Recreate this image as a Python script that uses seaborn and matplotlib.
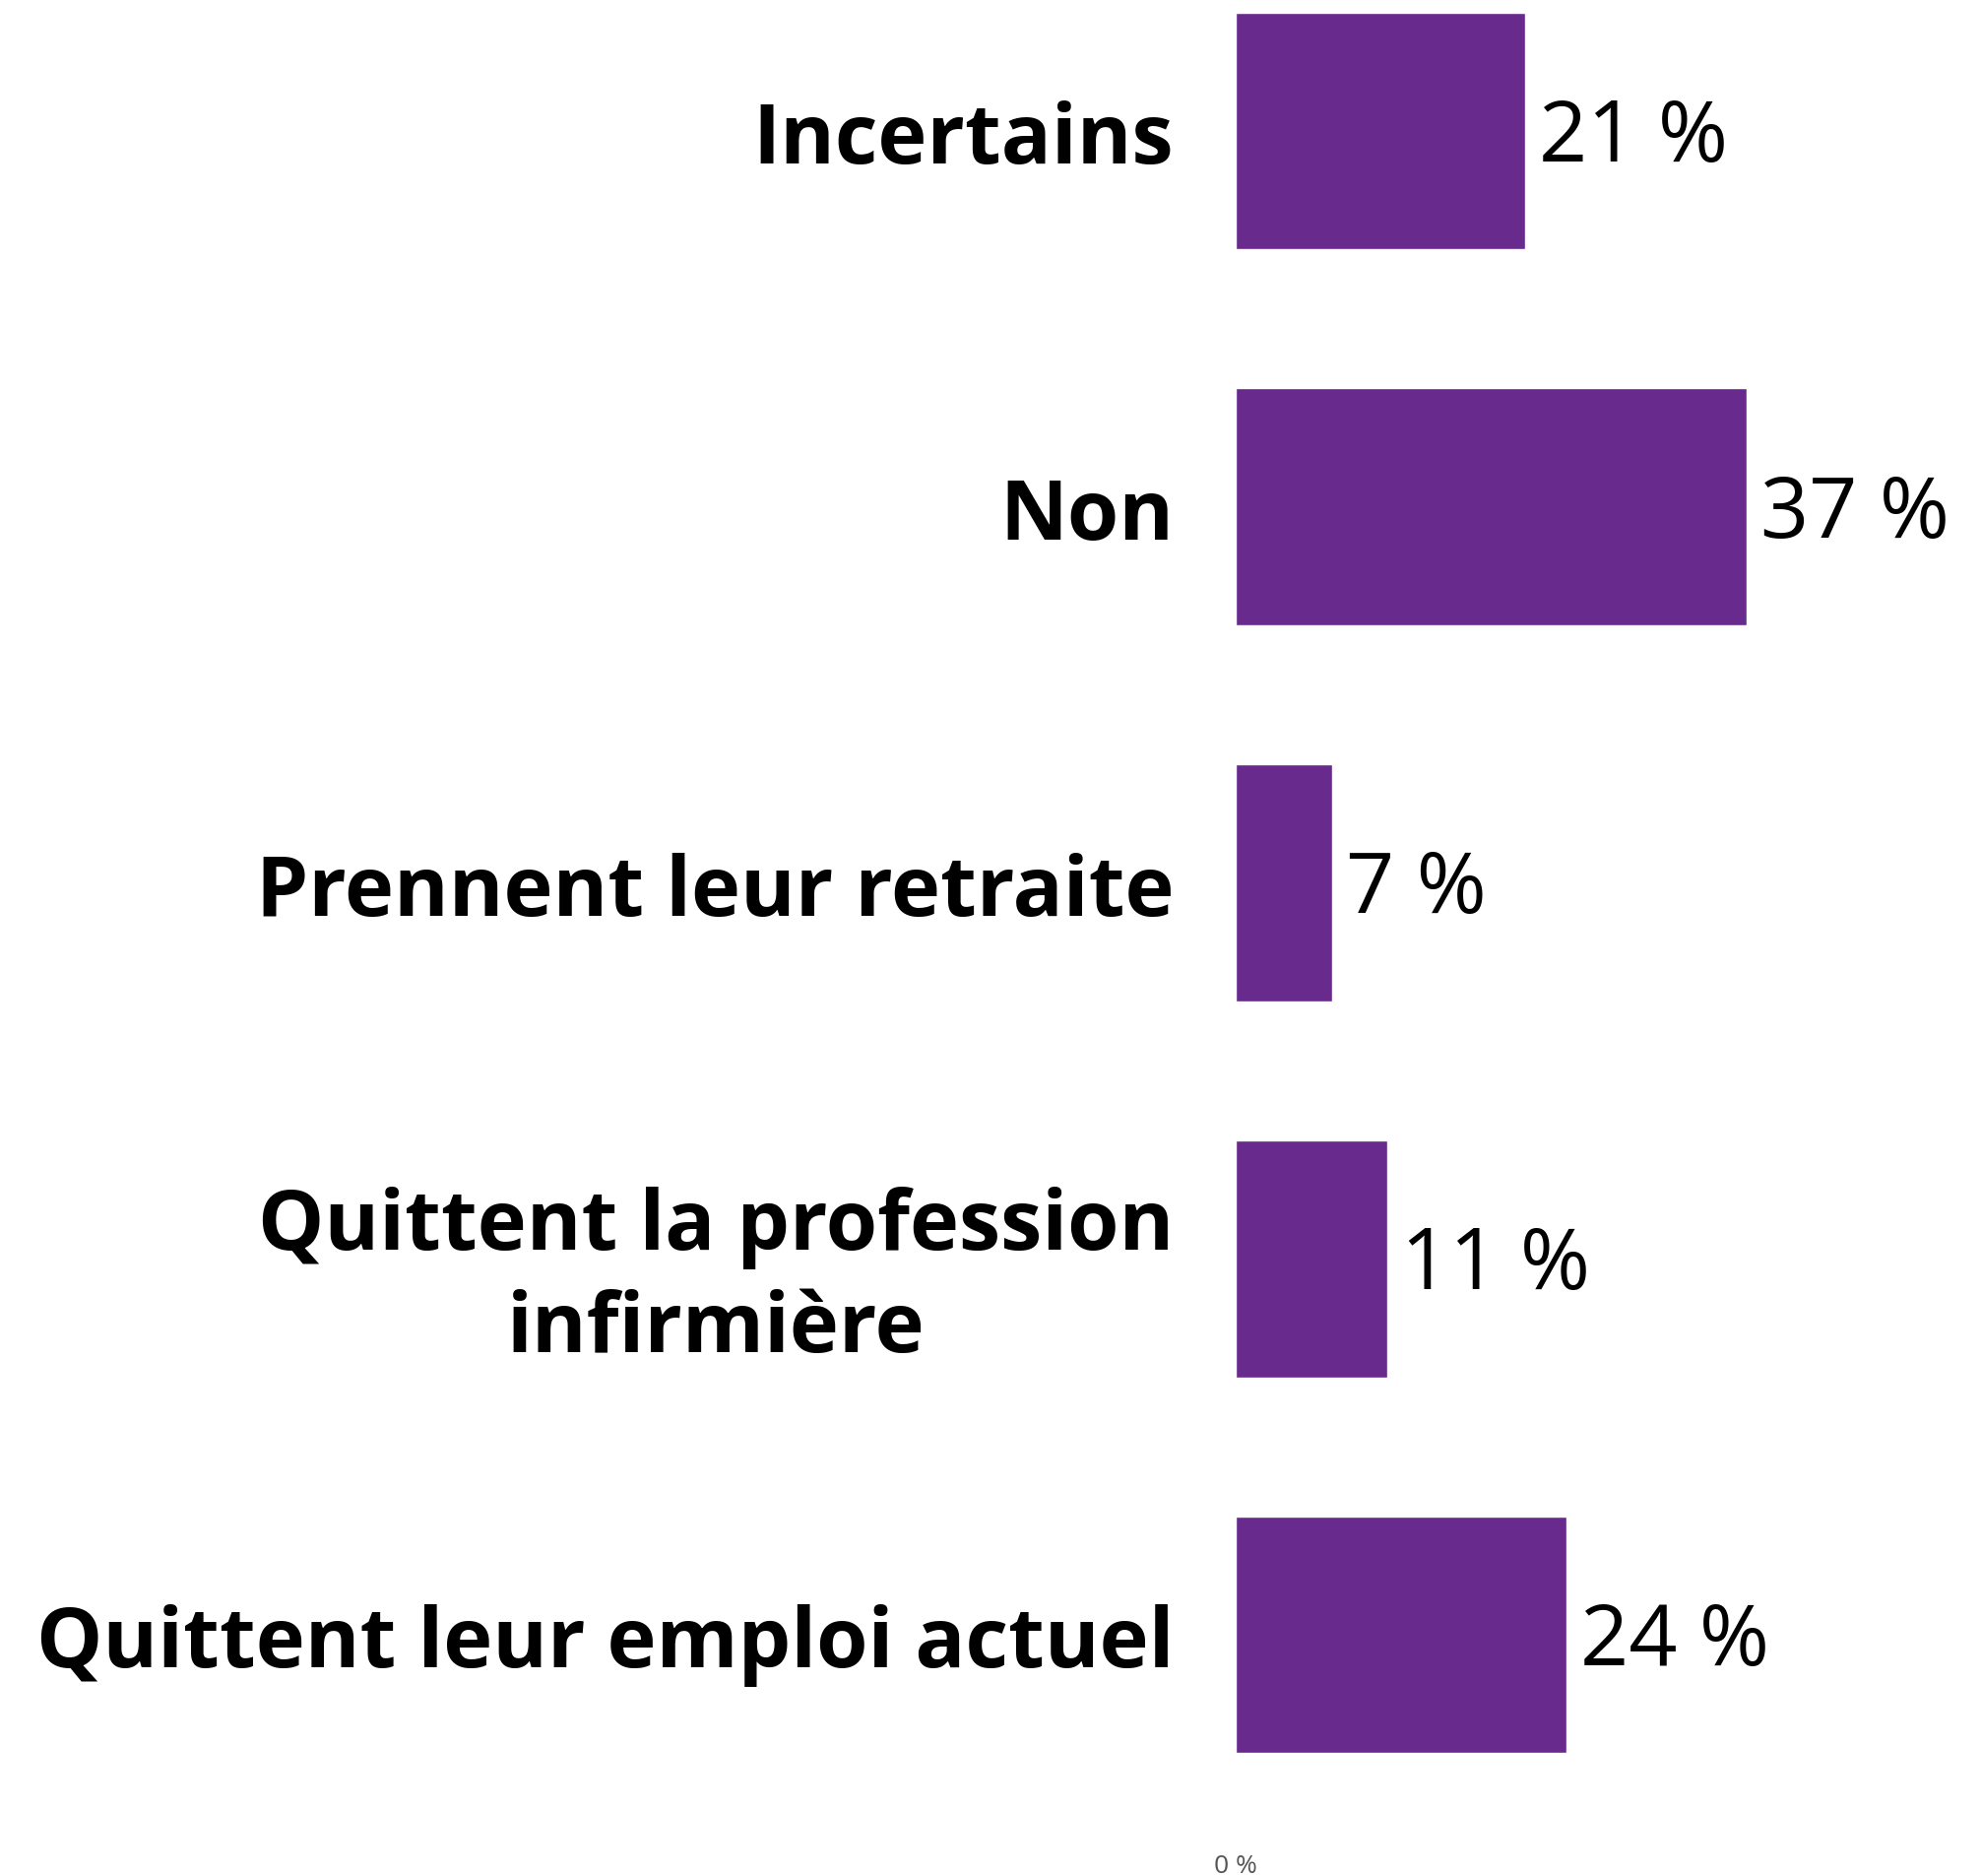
import pandas as pd
import matplotlib.pyplot as plt
import seaborn as sns

# data
categories = ['Incertains', 'Non', 'Prennent leur retraite',
              'Quittent la profession\ninfirmière', 'Quittent leur emploi actuel']
values = [21, 37, 7, 11, 24]
value_labels = ['21 %', '37 %', '7 %', '11 %', '24 %']

df = pd.DataFrame({'categorie': categories, 'pct': values})

sns.set_theme(style='white')
plt.rcParams['font.family'] = ['Open Sans', 'DejaVu Sans']

W, H = 2012, 1906
fig = plt.figure(figsize=(W / 100, H / 100), dpi=100)
# axes placed in pixel terms: left at 1255 px, right edge of figure
ax = fig.add_axes([1255 / W, 1 - 1830 / H, 1 - 1255 / W, 1830 / H])

sns.barplot(data=df, x='pct', y='categorie', orient='h', color='#682a8d',
            saturation=1, width=0.63, ax=ax)

ax.set_xlim(0, 54)
ax.set_ylim(4 + (1830 - 1661) / 382, -134 / 382)

for patch, lab in zip(ax.patches, value_labels):
    ax.text(patch.get_width() + 1.0, patch.get_y() + patch.get_height() / 2 + 0.02,
            lab, va='center', ha='left', fontsize=62, color='black')

ax.set_xticks([0])
ax.set_xticklabels(['0 %'], fontsize=19, color='#555555')
ax.tick_params(axis='x', length=0, pad=38)
ax.tick_params(axis='y', length=0, pad=45)
for t in ax.get_yticklabels():
    t.set_fontsize(61)
    t.set_fontweight('bold')
    t.set_color('black')
    t.set_multialignment('center')
    t.set_linespacing(1.3)

ax.set_xlabel('')
ax.set_ylabel('')
sns.despine(ax=ax, left=True, bottom=True)

fig.savefig('out.png', dpi=100)
plt.close()
